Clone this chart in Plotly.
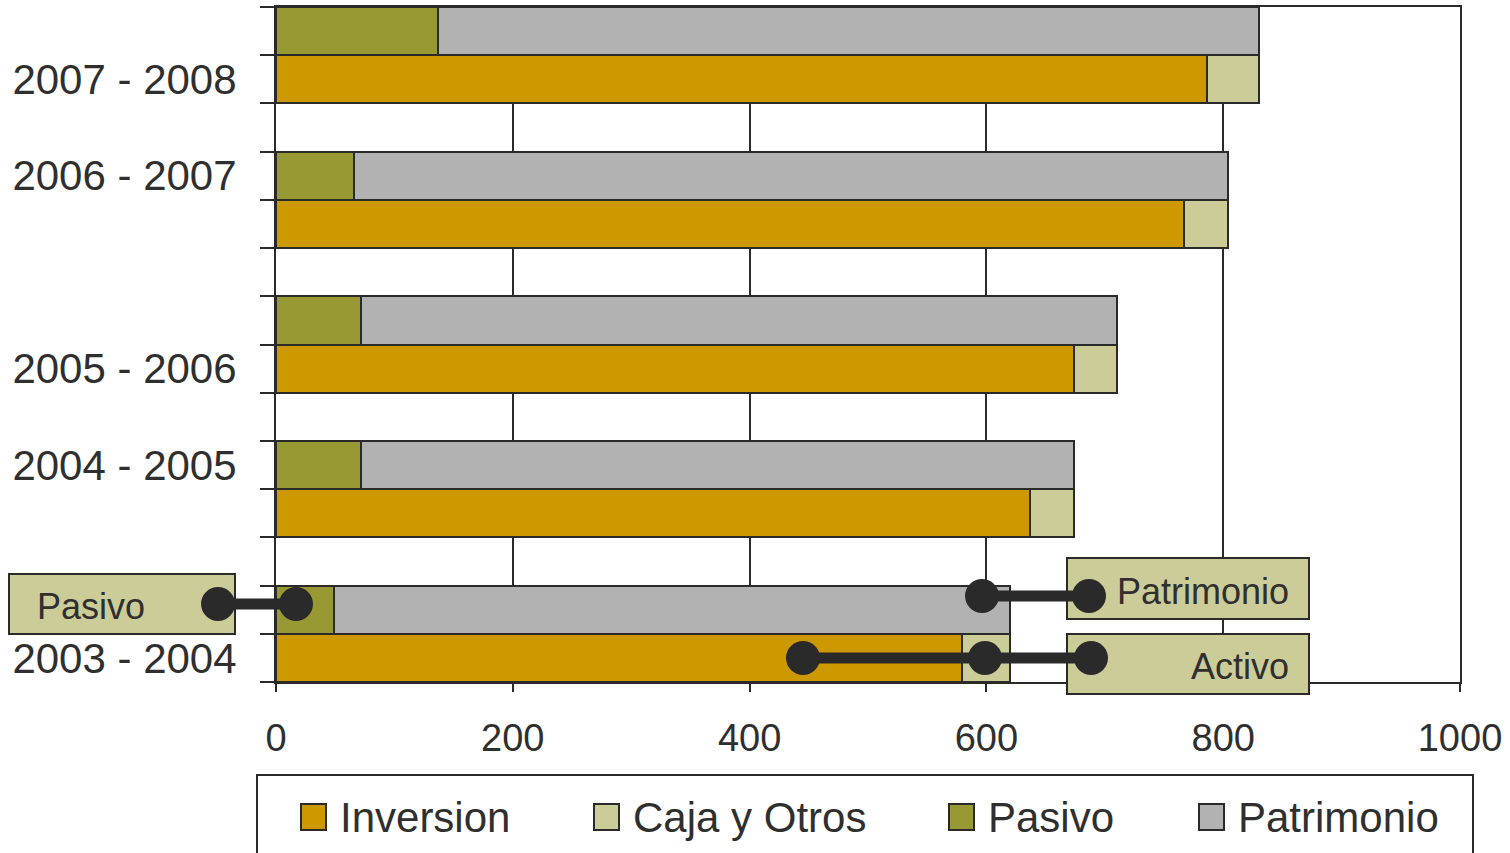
import plotly.graph_objects as go

# ---- data (bottom to top) ----
periods = ["2003 - 2004", "2004 - 2005", "2005 - 2006", "2006 - 2007", "2007 - 2008"]
inversion = [579, 637, 674, 767, 786]
caja_otros = [41, 37, 36, 37, 44]
pasivo = [49, 72, 72, 66, 137]
patrimonio = [571, 602, 638, 738, 693]
x_ticks = [0, 200, 400, 600, 800, 1000]

series_names = ["Inversion", "Caja y Otros", "Pasivo", "Patrimonio"]
series_colors = ["#CC9900", "#CCCC99", "#999933", "#B2B2B2"]

# ---- layout helpers ----
FONT = "Liberation Sans, Arial, sans-serif"
TXT = "#2f2f2f"
DARK = "#2a2a2a"
W, H = 1510, 853
L, R, T, B = 276, 1460, 7, 682

def px(x):
    return (x - L) / (R - L)

def py(y):
    return (B - y) / (B - T)

# row positions: each period = activo row + pasivo row + gap
activo_y = [3 * i + 0.5 for i in range(len(periods))]
pasivo_y = [3 * i + 1.5 for i in range(len(periods))]
label_row_offset = [0, 1, 0, 1, 0]
label_y = [a + o for a, o in zip(activo_y, label_row_offset)]

fig = go.Figure()
line_style = dict(color=DARK, width=2)
fig.add_trace(go.Bar(y=activo_y, x=inversion, orientation="h", width=1, name=series_names[0],
                     marker=dict(color=series_colors[0], line=line_style)))
fig.add_trace(go.Bar(y=activo_y, x=caja_otros, orientation="h", width=1, name=series_names[1],
                     marker=dict(color=series_colors[1], line=line_style)))
fig.add_trace(go.Bar(y=pasivo_y, x=pasivo, orientation="h", width=1, name=series_names[2],
                     marker=dict(color=series_colors[2], line=line_style)))
fig.add_trace(go.Bar(y=pasivo_y, x=patrimonio, orientation="h", width=1, name=series_names[3],
                     marker=dict(color=series_colors[3], line=line_style)))

shapes = []
annotations = []

# callout boxes
box_style = dict(type="rect", xref="paper", yref="paper", fillcolor="#CCCC99",
                 line=dict(color=DARK, width=2), layer="above")
shapes.append(dict(box_style, x0=px(9), x1=px(235), y0=py(634), y1=py(574)))
shapes.append(dict(box_style, x0=px(1067), x1=px(1309), y0=py(619), y1=py(558)))
shapes.append(dict(box_style, x0=px(1067), x1=px(1309), y0=py(694), y1=py(634)))

# connectors
conn = [((218, 604), (296, 604)), ((982, 596), (1089, 596)), ((803, 658), (1091, 658))]
for (x0, y0), (x1, y1) in conn:
    shapes.append(dict(type="line", xref="paper", yref="paper", x0=px(x0), x1=px(x1),
                       y0=py(y0), y1=py(y1), line=dict(color=DARK, width=11), layer="above"))
dots = [(218, 604), (296, 604), (982, 596), (1089, 596), (803, 658), (985, 658), (1091, 658)]
for cx, cy in dots:
    shapes.append(dict(type="circle", xref="paper", yref="paper", xsizemode="pixel", ysizemode="pixel",
                       xanchor=px(cx), yanchor=py(cy), x0=-17, x1=17, y0=-17, y1=17,
                       fillcolor=DARK, line=dict(width=0), layer="above"))

callout_font = dict(family=FONT, size=36, color=TXT)
annotations.append(dict(text="Pasivo", x=px(35), y=py(606), xref="paper", yref="paper",
                        xanchor="left", yanchor="middle", showarrow=False, font=callout_font))
annotations.append(dict(text="Patrimonio", x=px(1291), y=py(591), xref="paper", yref="paper",
                        xanchor="right", yanchor="middle", showarrow=False, font=callout_font))
annotations.append(dict(text="Activo", x=px(1291), y=py(666), xref="paper", yref="paper",
                        xanchor="right", yanchor="middle", showarrow=False, font=callout_font))

# manual legend
shapes.append(dict(type="rect", xref="paper", yref="paper", x0=px(257), x1=px(1473),
                   y0=py(880), y1=py(775), line=dict(color=DARK, width=2), fillcolor="rgba(0,0,0,0)"))
legend_x = [301, 594, 949, 1199]
for name, color, lx in zip(series_names, series_colors, legend_x):
    shapes.append(dict(type="rect", xref="paper", yref="paper", x0=px(lx), x1=px(lx + 25),
                       y0=py(830), y1=py(804), fillcolor=color, line=dict(color=DARK, width=2)))
    annotations.append(dict(text=name, x=px(lx + 37), y=py(817), xref="paper", yref="paper",
                            xanchor="left", yanchor="middle", showarrow=False,
                            font=dict(family=FONT, size=42, color=TXT)))

fig.update_layout(
    template="none",
    width=W, height=H,
    margin=dict(l=L, r=W - R, t=T, b=H - B, pad=0),
    barmode="stack",
    showlegend=False,
    paper_bgcolor="white",
    plot_bgcolor="white",
    font=dict(family=FONT, color=TXT),
    shapes=shapes,
    annotations=annotations,
    xaxis=dict(range=[0, 1000], tickvals=x_ticks, ticktext=[str(v) for v in x_ticks],
               ticks="outside", ticklen=8, tickwidth=2, tickcolor=DARK,
               showgrid=True, gridcolor=DARK, gridwidth=2, zeroline=False,
               showline=True, linecolor=DARK, linewidth=2, mirror=True,
               tickfont=dict(family=FONT, size=38, color=TXT), ticklabelstandoff=13,
               automargin=False, fixedrange=True),
    yaxis=dict(range=[0, 3 * len(periods) - 1], tickvals=label_y, ticktext=periods,
               ticks="", showgrid=False, zeroline=False,
               showline=True, linecolor=DARK, linewidth=2, mirror=True,
               minor=dict(tickvals=list(range(0, 3 * len(periods))), ticks="outside",
                          ticklen=14, tickwidth=2, tickcolor=DARK, showgrid=False),
               tickfont=dict(family=FONT, size=42, color=TXT), ticklabelstandoff=29,
               automargin=False, fixedrange=True),
)

fig.write_html("out.html", config={"displayModeBar": False},
               post_script="document.body.style.margin='0px';")
